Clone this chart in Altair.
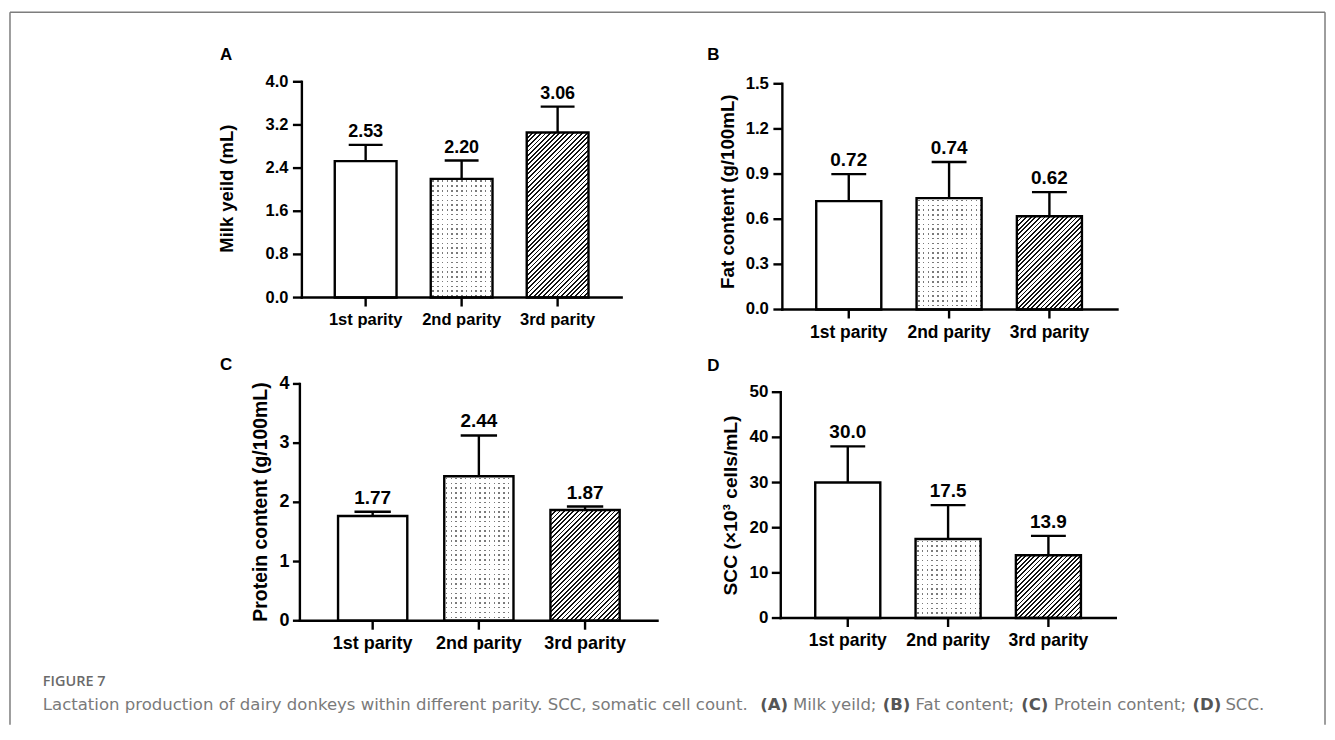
import altair as alt
import pandas as pd

# ---------------- data ----------------
parities = ["1st parity", "2nd parity", "3rd parity"]

milk_mean = [2.53, 2.20, 3.06]
milk_upper = [2.83, 2.54, 3.54]
fat_mean = [0.72, 0.74, 0.62]
fat_upper = [0.90, 0.98, 0.78]
protein_mean = [1.77, 2.44, 1.87]
protein_upper = [1.84, 3.13, 1.93]
scc_mean = [30.0, 17.5, 13.9]
scc_upper = [38.0, 25.0, 18.2]

milk_ticks = [0.0, 0.8, 1.6, 2.4, 3.2, 4.0]
fat_ticks = [0.0, 0.3, 0.6, 0.9, 1.2, 1.5]
protein_ticks = [0, 1, 2, 3, 4]
scc_ticks = [0, 10, 20, 30, 40, 50]

panel_letters = ["A", "B", "C", "D"]
y_titles = ["Milk yeild (mL)", "Fat content (g/100mL)",
            "Protein content (g/100mL)", "SCC (×10³ cells/mL)"]

figure_label = "FIGURE 7"
caption_texts = ["Lactation production of dairy donkeys within different parity. SCC, somatic cell count.",
                 "(A)", "Milk yeild;", "(B)", "Fat content;", "(C)", "Protein content;", "(D)", "SCC."]
caption_bold = [False, True, False, True, False, True, False, True, False]

# ---------------- layout (page pixel coords) ----------------
OX, OY = 8, 8
W, H = 1324, 718
FONT = "Liberation Sans, Arial, Helvetica, sans-serif"
CAPFONT = "DejaVu Sans, Open Sans, sans-serif"
LW = 2.4


def px(x):
    return x - OX


def py(y):
    return y - OY


layout = [
    dict(mean=milk_mean, upper=milk_upper, ticks=milk_ticks, fmt=".1f", vfmt=".2f",
         axis_x=303, y0=297.3, ytop=80.7, x_end=624, first_left=336, last_right=590.7, bw=62, cap=34,
         title_cx=227.5, title_cy=188, tick_fs=16.5, xlab_fs=16.6, title_fs=18.5, val_fs=18,
         ytick=9, ypad=4.5, letter_xy=(220.7, 59.3)),
    dict(mean=fat_mean, upper=fat_upper, ticks=fat_ticks, fmt=".1f", vfmt=".2f",
         axis_x=785.3, y0=309.3, ytop=82.7, x_end=1121.7, first_left=819.3, last_right=1086, bw=65.3, cap=35,
         title_cx=731, title_cy=191, tick_fs=16.8, xlab_fs=17.5, title_fs=18.8, val_fs=19,
         ytick=9, ypad=4.5, letter_xy=(710, 59.3)),
    dict(mean=protein_mean, upper=protein_upper, ticks=protein_ticks, fmt="d", vfmt=".2f",
         axis_x=301, y0=621.7, ytop=384, x_end=660, first_left=339.3, last_right=622, bw=69.5, cap=36.5,
         title_cx=262, title_cy=502.5, tick_fs=18, xlab_fs=18, title_fs=19.5, val_fs=19,
         ytick=7, ypad=3.5, letter_xy=(220.7, 370)),
    dict(mean=scc_mean, upper=scc_upper, ticks=scc_ticks, fmt="d", vfmt=".1f",
         axis_x=783.7, y0=619, ytop=392.3, x_end=1120, first_left=818.3, last_right=1085, bw=65.3, cap=35,
         title_cx=734, title_cy=506, tick_fs=17, xlab_fs=17.6, title_fs=19.3, val_fs=19,
         ytick=9, ypad=3.5, letter_xy=(710, 370.7)),
]

caption_x = [43, 763, 796, 886, 919, 1025, 1058, 1197, 1230]
XTICK = 9
XLABPAD = 5.5


def stripes(length, period, thick, phase, on, off):
    stops = [{"offset": 0.0, "color": off}]
    pos = phase
    while pos < length:
        a = round(max(pos, 0.0) / length, 5)
        b = round(min(pos + thick, length) / length, 5)
        stops += [{"offset": a, "color": off}, {"offset": a, "color": on},
                  {"offset": b, "color": on}, {"offset": b, "color": off}]
        pos += period
    stops.append({"offset": 1.0, "color": off})
    return stops


def panel(i):
    L = layout[i]
    df = pd.DataFrame({"parity": parities, "mean": L["mean"], "upper": L["upper"]})
    dmax = L["ticks"][-1]
    tick_df = pd.DataFrame({"tick": L["ticks"]})
    dom_df = pd.DataFrame({"lo": [0], "hi": [dmax]})

    step = (L["last_right"] - L["first_left"] - L["bw"]) / 2
    p_in = 1 - L["bw"] / step
    span = L["x_end"] - L["axis_x"]
    p_out = (span / step - 3 + p_in) / 2
    free = span - step * (3 - p_in)
    align = (L["first_left"] - L["axis_x"]) / free
    xs = alt.Scale(type="band", domain=parities, range=[px(L["axis_x"]), px(L["x_end"])],
                   paddingInner=p_in, paddingOuter=p_out, align=align)
    ys = alt.Scale(domain=[0, dmax], range=[py(L["y0"]), py(L["ytop"])], nice=False, zero=True)

    base = alt.Chart(df)
    enc_x = alt.X("parity:N", scale=xs, axis=None, sort=parities)
    enc_y = alt.Y("mean:Q", scale=ys, axis=None)
    enc_up = alt.Y("upper:Q", scale=ys, axis=None)

    layers = []
    layers.append(base.mark_bar(fill="white").encode(x=enc_x, y=enc_y))

    scale_px = (L["y0"] - L["ytop"]) / dmax
    w = L["bw"]
    # dotted (2nd parity)
    h2 = L["mean"][1] * scale_px
    cols = {"gradient": "linear", "x1": 0, "y1": 0, "x2": 1, "y2": 0,
            "stops": stripes(w, 4.8, 1.5, 1.6, "#7a7a7a", "#ffffff")}
    rows = {"gradient": "linear", "x1": 0, "y1": 0, "x2": 0, "y2": 1,
            "stops": stripes(h2, 4.8, 1.5, 1.6, "rgba(255,255,255,0)", "#ffffff")}
    f2 = alt.datum.parity == parities[1]
    layers.append(base.mark_bar(fill=cols).encode(x=enc_x, y=enc_y).transform_filter(f2))
    layers.append(base.mark_bar(fill=rows).encode(x=enc_x, y=enc_y).transform_filter(f2))
    # hatched (3rd parity)
    h3 = L["mean"][2] * scale_px
    k = (w + h3) / (w * w + h3 * h3)
    hatch = {"gradient": "linear", "x1": 0, "y1": 0, "x2": w * k, "y2": h3 * k,
             "stops": stripes(w + h3, 4.6, 1.8, 0.5, "#111111", "#ffffff")}
    f3 = alt.datum.parity == parities[2]
    layers.append(base.mark_bar(fill=hatch).encode(x=enc_x, y=enc_y).transform_filter(f3))
    # outlines
    layers.append(base.mark_bar(fillOpacity=0, stroke="black", strokeWidth=LW).encode(x=enc_x, y=enc_y))
    # error bars
    layers.append(base.mark_rule(color="black", strokeWidth=LW).encode(
        x=enc_x, y=enc_y, y2=alt.Y2("upper:Q")))
    layers.append(base.mark_tick(color="black", size=L["cap"], thickness=LW, opacity=1).encode(
        x=enc_x, y=enc_up))
    # value labels
    layers.append(base.mark_text(dy=-8, baseline="alphabetic", font=FONT, fontSize=L["val_fs"],
                                 fontWeight="bold", color="black").encode(
        x=enc_x, y=enc_up, text=alt.Text("mean:Q", format=L["vfmt"])))

    # ---- axes drawn through the same scales ----
    ax = px(L["axis_x"])
    y0 = py(L["y0"])
    dom = alt.Chart(dom_df)
    layers.append(dom.mark_rule(color="black", strokeWidth=LW, strokeCap="square").encode(
        x=alt.value(ax), y=alt.Y("lo:Q", scale=ys, axis=None), y2=alt.Y2("hi:Q")))
    layers.append(dom.mark_rule(color="black", strokeWidth=LW, strokeCap="square").encode(
        x=alt.value(ax), x2=alt.value(px(L["x_end"])), y=alt.Y("lo:Q", scale=ys, axis=None)))
    tk = alt.Chart(tick_df)
    layers.append(tk.mark_rule(color="black", strokeWidth=LW).encode(
        x=alt.value(ax - L["ytick"]), x2=alt.value(ax), y=alt.Y("tick:Q", scale=ys, axis=None)))
    layers.append(tk.mark_text(align="right", baseline="middle", font=FONT, fontSize=L["tick_fs"],
                               fontWeight="bold", color="black").encode(
        x=alt.value(ax - L["ytick"] - L["ypad"]), y=alt.Y("tick:Q", scale=ys, axis=None),
        text=alt.Text("tick:Q", format=L["fmt"])))
    layers.append(base.mark_rule(color="black", strokeWidth=LW).encode(
        x=enc_x, y=alt.value(y0), y2=alt.value(y0 + XTICK)))
    layers.append(base.mark_text(align="center", baseline="top", font=FONT, fontSize=L["xlab_fs"],
                                 fontWeight="bold", color="black").encode(
        x=enc_x, y=alt.value(y0 + XTICK + XLABPAD), text="parity:N"))
    layers.append(dom.mark_text(text=y_titles[i], angle=270, align="center", baseline="middle",
                                font=FONT, fontSize=L["title_fs"], fontWeight="bold", color="black").encode(
        x=alt.value(px(L["title_cx"])), y=alt.value(py(L["title_cy"]))))
    lx, ly = L["letter_xy"]
    layers.append(dom.mark_text(text=panel_letters[i], align="left", baseline="alphabetic",
                                font=FONT, fontSize=17, fontWeight="bold", color="black")
                  .encode(x=alt.value(px(lx)), y=alt.value(py(ly))))
    return alt.layer(*layers)


one = pd.DataFrame({"k": [0]})
deco = []

# frame
frame_c = "#7d7d7d"
deco.append(alt.Chart(one).mark_rule(color=frame_c, strokeWidth=1.5).encode(
    x=alt.value(px(10)), y=alt.value(py(11)), y2=alt.value(H)))
deco.append(alt.Chart(one).mark_rule(color=frame_c, strokeWidth=1.5).encode(
    x=alt.value(px(1330)), y=alt.value(py(11)), y2=alt.value(H)))
deco.append(alt.Chart(one).mark_rule(color=frame_c, strokeWidth=1.5).encode(
    x=alt.value(px(10)), x2=alt.value(px(1330)), y=alt.value(py(11))))

# caption
deco.append(alt.Chart(one).mark_text(text=figure_label, align="left", baseline="alphabetic",
                                     font="Open Sans, sans-serif", fontSize=14.5, fontWeight=600,
                                     color="#6a6a6a")
            .encode(x=alt.value(px(43)), y=alt.value(py(687))))
for t, b, x in zip(caption_texts, caption_bold, caption_x):
    deco.append(alt.Chart(one).mark_text(text=t, align="left", baseline="alphabetic",
                                         font=CAPFONT, fontSize=16.6,
                                         fontWeight="bold" if b else "normal",
                                         color="#555555" if b else "#7a7a7a")
                .encode(x=alt.value(px(x)), y=alt.value(py(711.5))))

chart = alt.layer(*[panel(i) for i in range(4)], *deco).resolve_scale(
    x="independent", y="independent"
).properties(
    width=W, height=H, padding=0, autosize=alt.AutoSizeParams(type="none"), background="white"
).configure_view(strokeWidth=0)

chart.save("out.html", embed_options={"renderer": "svg", "actions": False})
